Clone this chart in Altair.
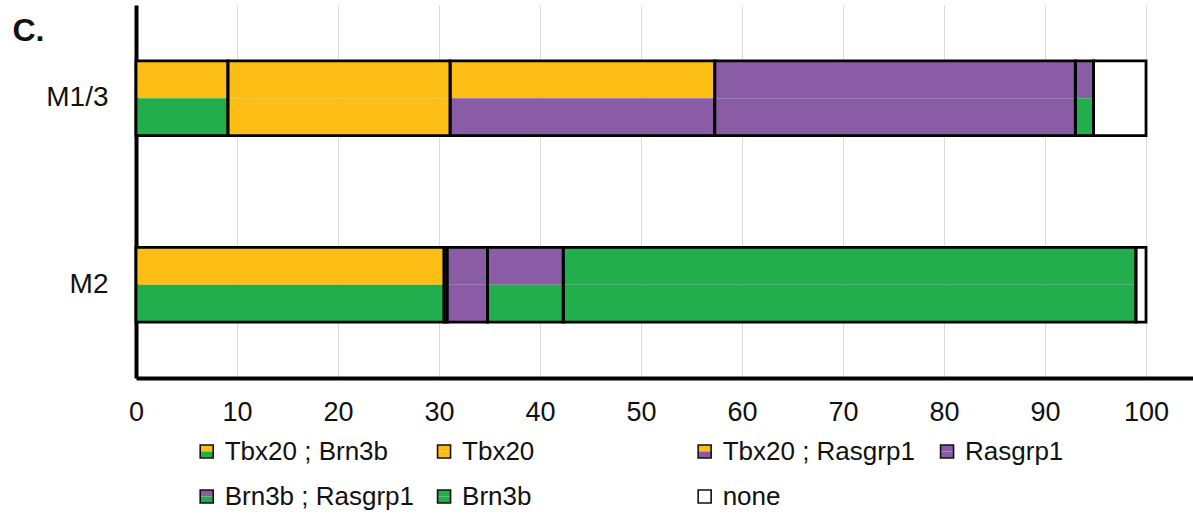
import altair as alt
import pandas as pd

# Marker combinations, in stacking order
categories = ["Tbx20 ; Brn3b", "Tbx20", "Tbx20 ; Rasgrp1", "Rasgrp1",
              "Brn3b ; Rasgrp1", "Brn3b", "none"]
groups = ["M1/3", "M2"]

# Percentage of cells per combination
m13_values = [9.1, 22.0, 26.2, 35.7, 1.8, 0.0, 5.2]
m2_values = [30.5, 0.3, 0.0, 4.0, 7.5, 56.7, 1.0]

YELLOW = "#FCBE14"
GREEN = "#23AE4D"
PURPLE = "#8A5CA6"
WHITE = "#FFFFFF"

# Each combination is drawn as an upper and a lower half
upper_colors = [YELLOW, YELLOW, YELLOW, PURPLE, PURPLE, GREEN, WHITE]
lower_colors = [GREEN, YELLOW, PURPLE, PURPLE, GREEN, GREEN, WHITE]

# Legend layout: column (in x units) and row for each entry
legend_cols = [7.0, 30.5, 56.3, 80.3, 7.0, 30.5, 56.3]
legend_rows = [0, 0, 0, 0, 1, 1, 1]

tick_values = list(range(0, 101, 10))
X_MAX = 104.65

FONT = "Liberation Sans"

# Build segment table with cumulative start/end per group
seg_rows, half_rows = [], []
for g, vals in zip(groups, [m13_values, m2_values]):
    start = 0.0
    for cat, v, up, lo in zip(categories, vals, upper_colors, lower_colors):
        end = start + v
        if v > 0:
            seg_rows.append({"group": g, "cat": cat, "start": start, "end": end})
            half_rows.append({"group": g, "cat": cat, "half": "top",
                              "start": start, "end": end, "fill": up})
            half_rows.append({"group": g, "cat": cat, "half": "bottom",
                              "start": start, "end": end, "fill": lo})
        start = end

seg_df = pd.DataFrame(seg_rows)
half_df = pd.DataFrame(half_rows)

x_scale = alt.Scale(domain=[0, X_MAX], nice=False, zero=True)
y_scale = alt.Scale(domain=groups, paddingInner=0.6, paddingOuter=0.3)

x_axis = alt.Axis(values=tick_values, grid=True, gridColor="#dcdcdc", gridWidth=1,
                  ticks=False, domainColor="black", domainWidth=4,
                  labelFontSize=27, labelFont=FONT, labelColor="#111",
                  labelPadding=21, title=None, labelFlush=False)
y_axis = alt.Axis(ticks=False, grid=False, domainColor="black", domainWidth=4,
                  labelFontSize=28, labelFont=FONT, labelColor="#111",
                  labelPadding=28, title="C.", titleAngle=0, titleAlign="left",
                  titleBaseline="alphabetic", titleX=-124, titleY=35,
                  titleFontSize=32, titleFont=FONT, titleFontWeight="bold",
                  titleColor="#111")

halves = alt.Chart(half_df).mark_bar(strokeWidth=0).encode(
    x=alt.X("start:Q", scale=x_scale, axis=x_axis),
    x2="end:Q",
    y=alt.Y("group:N", scale=y_scale, axis=y_axis),
    yOffset=alt.YOffset("half:N", sort=["top", "bottom"],
                        scale=alt.Scale(domain=["top", "bottom"],
                                        paddingInner=0, paddingOuter=0)),
    fill=alt.Fill("fill:N", scale=None),
)

outlines = alt.Chart(seg_df).mark_bar(fillOpacity=0, stroke="black",
                                      strokeWidth=2.8).encode(
    x=alt.X("start:Q", scale=x_scale),
    x2="end:Q",
    y=alt.Y("group:N", scale=y_scale),
)

main = alt.layer(halves, outlines).properties(width=1057, height=373)

# Legend with two-tone squares
legend_df = pd.DataFrame({
    "name": categories, "col": legend_cols, "row": legend_rows,
    "upper": upper_colors, "lower": lower_colors,
})

lx = alt.X("col:Q", scale=alt.Scale(domain=[0, X_MAX], nice=False), axis=None)
ly = alt.Y("row:O", scale=alt.Scale(domain=[0, 1], paddingOuter=0.5), axis=None)
SQ = 169

top_half = alt.Chart(legend_df).mark_point(
    shape="M-1,-1H1V0H-1Z", size=SQ, filled=True, opacity=1, strokeWidth=0
).encode(x=lx, y=ly, fill=alt.Fill("upper:N", scale=None))

bottom_half = alt.Chart(legend_df).mark_point(
    shape="M-1,0H1V1H-1Z", size=SQ, filled=True, opacity=1, strokeWidth=0
).encode(x=lx, y=ly, fill=alt.Fill("lower:N", scale=None))

box = alt.Chart(legend_df).mark_point(
    shape="M-1,-1H1V1H-1Z", size=SQ, filled=False, opacity=1,
    stroke="#111", strokeWidth=1.6
).encode(x=lx, y=ly)

labels = alt.Chart(legend_df).mark_text(
    align="left", baseline="middle", dx=18, fontSize=26, font=FONT, color="#111"
).encode(x=lx, y=ly, text="name:N")

legend = alt.layer(top_half, bottom_half, box, labels).properties(
    width=1057, height=90)

chart = alt.vconcat(main, legend, spacing=4).properties(
    padding={"left": 12, "top": 5, "right": 0, "bottom": 0},
    background="white",
).configure_view(strokeWidth=0)

chart.save("out.html", embed_options={"renderer": "svg", "actions": False})
